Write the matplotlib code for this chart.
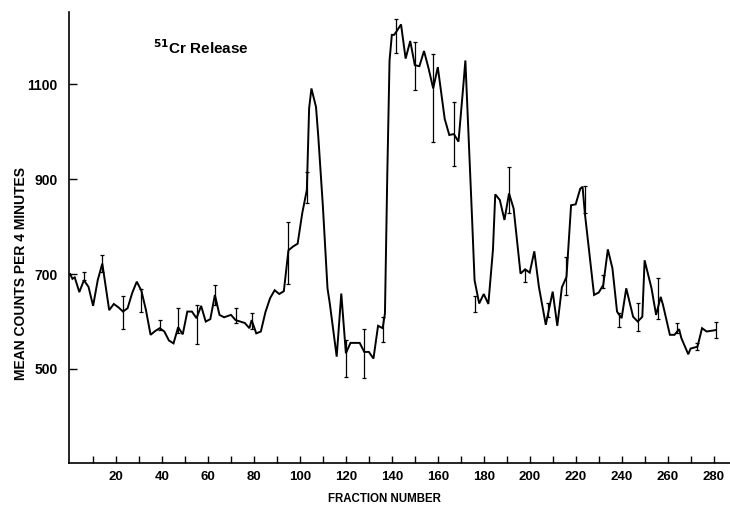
import matplotlib
matplotlib.use("Agg")
import matplotlib.pyplot as plt
import numpy as np

plt.rcParams['font.family'] = ['Liberation Sans', 'DejaVu Sans']

# Fraction number and mean counts per 4 minutes
fraction = [0, 1, 2, 4, 6, 8, 10, 12, 14, 17, 19, 21, 23, 25, 27, 29, 31, 33, 35, 37,
            39, 41, 43, 45, 47, 49, 51, 53, 55, 57, 59, 61, 63, 65, 67, 70, 72, 74, 76, 78,
            79, 81, 83, 85, 87, 89, 91, 93, 95, 97, 99, 101, 103, 104, 105, 107, 108, 110, 112, 113,
            116, 118, 120, 122, 126, 128, 130, 132, 134, 136, 137, 138, 139, 140, 141, 142, 144, 146, 148, 150,
            152, 154, 156, 158, 160, 163, 165, 167, 169, 171, 172, 175, 176, 178, 180, 182, 184, 185, 187, 189,
            191, 193, 196, 198, 200, 202, 204, 207, 208, 210, 212, 214, 216, 218, 220, 222, 223, 224, 226, 228,
            230, 232, 234, 236, 238, 240, 242, 245, 247, 249, 250, 253, 255, 257, 258, 261, 263, 265, 266, 269,
            270, 273, 275, 277, 281]
counts = [700, 690, 693, 662, 687, 673, 633, 687, 722, 624, 637, 630, 621, 628, 660, 684, 665, 624, 572, 580,
          586, 579, 560, 554, 588, 573, 621, 621, 607, 633, 600, 605, 656, 614, 609, 614, 603, 600, 597, 586,
          603, 575, 579, 620, 649, 666, 658, 664, 750, 758, 764, 828, 877, 1049, 1091, 1052, 989, 842, 670, 638,
          526, 659, 533, 555, 555, 536, 536, 522, 591, 586, 617, 905, 1150, 1204, 1204, 1211, 1226, 1154, 1191, 1140,
          1138, 1170, 1133, 1091, 1136, 1027, 993, 995, 979, 1091, 1150, 807, 687, 638, 658, 637, 751, 868, 856, 814,
          870, 838, 701, 710, 703, 748, 673, 593, 617, 663, 591, 672, 694, 845, 847, 880, 884, 828, 743, 656,
          661, 677, 752, 712, 621, 607, 670, 610, 600, 610, 729, 670, 614, 652, 635, 572, 572, 584, 565, 531,
          543, 547, 586, 579, 582]

# Ranges shown as vertical bars
err_fraction = [6, 14, 23, 31, 39, 47, 55, 63, 72, 79, 95, 103, 120, 128, 136, 142, 150, 158, 167,
                176, 191, 198, 208, 216, 224, 232, 239, 247, 256, 264, 273, 281]
err_low = [687, 705, 584, 620, 582, 576, 552, 635, 597, 584, 680, 849, 484, 481, 557, 1166, 1087, 979, 927,
           621, 828, 684, 610, 656, 828, 671, 588, 581, 605, 576, 540, 565]
err_high = [705, 740, 654, 668, 603, 628, 635, 677, 628, 618, 810, 915, 561, 584, 610, 1237, 1189, 1164, 1063,
            654, 926, 708, 639, 736, 885, 698, 618, 639, 692, 597, 555, 599]

y_ticks = [500, 700, 900, 1100]
x_ticks = list(range(20, 281, 20))
x_minor = list(range(10, 281, 20))

fig = plt.figure(figsize=(7.3, 5.13), dpi=100)
ax = fig.add_axes([0.0945, 0.0975, 0.905, 0.879])

ax.plot(fraction, counts, color='black', lw=1.4, solid_joinstyle='miter')

mid = [(lo + hi) / 2 for lo, hi in zip(err_low, err_high)]
half = [(hi - lo) / 2 for lo, hi in zip(err_low, err_high)]
ax.errorbar(err_fraction, mid, yerr=half, fmt='none', ecolor='black',
            elinewidth=0.9, capsize=1.6, capthick=0.9)

ax.set_xlim(-0.5, 287)
ax.set_ylim(302, 1252)

for s in ('top', 'right'):
    ax.spines[s].set_visible(False)
for s in ('left', 'bottom'):
    ax.spines[s].set_linewidth(1.2)

ax.set_yticks(y_ticks)
ax.set_yticklabels([str(v) for v in y_ticks], fontsize=10, fontweight='bold')
ax.set_xticks(x_ticks)
ax.set_xticklabels([str(v) for v in x_ticks], fontsize=9.5, fontweight='bold')
ax.set_xticks(x_minor, minor=True)
ax.tick_params(axis='x', which='both', direction='in', length=5, width=1, pad=6)
ax.tick_params(axis='y', which='both', direction='in', length=6, width=1, pad=8)

ax.set_xlabel('FRACTION NUMBER', fontsize=8.3, fontweight='bold')
ax.set_ylabel('MEAN COUNTS PER 4 MINUTES', fontsize=10, fontweight='bold')
ax.xaxis.set_label_coords(0.478, -0.066)
ax.yaxis.set_label_coords(-0.062, 0.42)

ax.text(0.127, 0.92, r'$^{\mathbf{51}}$Cr Release', transform=ax.transAxes,
        fontsize=11, fontweight='bold', ha='left', va='center')

fig.savefig('out.png', dpi=100)
